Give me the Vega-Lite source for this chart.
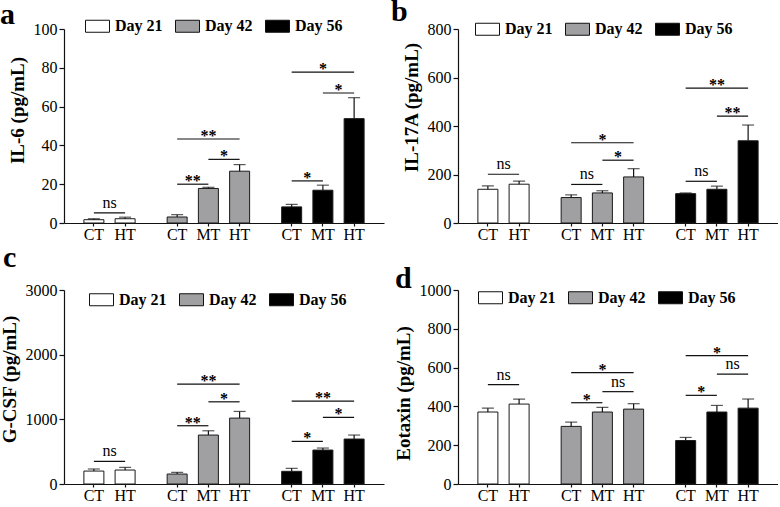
{
  "$schema": "https://vega.github.io/schema/vega-lite/v6.json",
  "description": "Cytokine levels (IL-6, IL-17A, G-CSF, Eotaxin) by day and group",
  "padding": {"left": 0, "top": -3, "right": 0, "bottom": 0},
  "background": "white",
  "datasets": {
    "a_bars": [
      {"key": "D21 CT", "day": "Day 21", "mean": 1.7, "upper": 2.2},
      {"key": "D21 HT", "day": "Day 21", "mean": 2.2, "upper": 3.0},
      {"key": "D42 CT", "day": "Day 42", "mean": 3.1, "upper": 4.3},
      {"key": "D42 MT", "day": "Day 42", "mean": 17.8, "upper": 18.4},
      {"key": "D42 HT", "day": "Day 42", "mean": 26.7, "upper": 30.1},
      {"key": "D56 CT", "day": "Day 56", "mean": 8.3, "upper": 9.6},
      {"key": "D56 MT", "day": "Day 56", "mean": 16.9, "upper": 19.5},
      {"key": "D56 HT", "day": "Day 56", "mean": 53.8, "upper": 64.6}
    ],
    "a_sig": [
      {"key": "D21 CT", "to": "D21 HT", "y": 5.2, "label": "ns", "kind": "adj"},
      {"key": "D42 CT", "to": "D42 MT", "y": 20.0, "label": "**", "kind": "adj"},
      {"key": "D42 MT", "to": "D42 HT", "y": 32.8, "label": "*", "kind": "adj"},
      {"key": "D42 CT", "to": "D42 HT", "y": 43.3, "label": "**", "kind": "wide"},
      {"key": "D56 CT", "to": "D56 MT", "y": 21.7, "label": "*", "kind": "adj"},
      {"key": "D56 MT", "to": "D56 HT", "y": 67.0, "label": "*", "kind": "adj"},
      {"key": "D56 CT", "to": "D56 HT", "y": 77.8, "label": "*", "kind": "wide"}
    ],
    "b_bars": [
      {"key": "D21 CT", "day": "Day 21", "mean": 139, "upper": 153},
      {"key": "D21 HT", "day": "Day 21", "mean": 160, "upper": 173},
      {"key": "D42 CT", "day": "Day 42", "mean": 105, "upper": 116},
      {"key": "D42 MT", "day": "Day 42", "mean": 124, "upper": 133},
      {"key": "D42 HT", "day": "Day 42", "mean": 190, "upper": 224},
      {"key": "D56 CT", "day": "Day 56", "mean": 121, "upper": 124},
      {"key": "D56 MT", "day": "Day 56", "mean": 139, "upper": 152},
      {"key": "D56 HT", "day": "Day 56", "mean": 339, "upper": 404}
    ],
    "b_sig": [
      {"key": "D21 CT", "to": "D21 HT", "y": 201, "label": "ns", "kind": "adj"},
      {"key": "D42 CT", "to": "D42 MT", "y": 159, "label": "ns", "kind": "adj"},
      {"key": "D42 MT", "to": "D42 HT", "y": 259, "label": "*", "kind": "adj"},
      {"key": "D42 CT", "to": "D42 HT", "y": 331, "label": "*", "kind": "wide"},
      {"key": "D56 CT", "to": "D56 MT", "y": 172, "label": "ns", "kind": "adj"},
      {"key": "D56 MT", "to": "D56 HT", "y": 441, "label": "**", "kind": "adj"},
      {"key": "D56 CT", "to": "D56 HT", "y": 556, "label": "**", "kind": "wide"}
    ],
    "c_bars": [
      {"key": "D21 CT", "day": "Day 21", "mean": 200, "upper": 232},
      {"key": "D21 HT", "day": "Day 21", "mean": 216, "upper": 257},
      {"key": "D42 CT", "day": "Day 42", "mean": 154, "upper": 180},
      {"key": "D42 MT", "day": "Day 42", "mean": 757, "upper": 823},
      {"key": "D42 HT", "day": "Day 42", "mean": 1019, "upper": 1122},
      {"key": "D56 CT", "day": "Day 56", "mean": 196, "upper": 242},
      {"key": "D56 MT", "day": "Day 56", "mean": 525, "upper": 556},
      {"key": "D56 HT", "day": "Day 56", "mean": 695, "upper": 757}
    ],
    "c_sig": [
      {"key": "D21 CT", "to": "D21 HT", "y": 350, "label": "ns", "kind": "adj"},
      {"key": "D42 CT", "to": "D42 MT", "y": 901, "label": "**", "kind": "adj"},
      {"key": "D42 MT", "to": "D42 HT", "y": 1271, "label": "*", "kind": "adj"},
      {"key": "D42 CT", "to": "D42 HT", "y": 1544, "label": "**", "kind": "wide"},
      {"key": "D56 CT", "to": "D56 MT", "y": 659, "label": "*", "kind": "adj"},
      {"key": "D56 MT", "to": "D56 HT", "y": 1029, "label": "*", "kind": "adj"},
      {"key": "D56 CT", "to": "D56 HT", "y": 1282, "label": "**", "kind": "wide"}
    ],
    "d_bars": [
      {"key": "D21 CT", "day": "Day 21", "mean": 371, "upper": 391},
      {"key": "D21 HT", "day": "Day 21", "mean": 412, "upper": 438},
      {"key": "D42 CT", "day": "Day 42", "mean": 297, "upper": 319},
      {"key": "D42 MT", "day": "Day 42", "mean": 371, "upper": 395},
      {"key": "D42 HT", "day": "Day 42", "mean": 386, "upper": 414},
      {"key": "D56 CT", "day": "Day 56", "mean": 224, "upper": 240},
      {"key": "D56 MT", "day": "Day 56", "mean": 371, "upper": 405},
      {"key": "D56 HT", "day": "Day 56", "mean": 391, "upper": 438}
    ],
    "d_sig": [
      {"key": "D21 CT", "to": "D21 HT", "y": 512, "label": "ns", "kind": "adj"},
      {"key": "D42 CT", "to": "D42 MT", "y": 419, "label": "*", "kind": "adj"},
      {"key": "D42 MT", "to": "D42 HT", "y": 476, "label": "ns", "kind": "adj"},
      {"key": "D42 CT", "to": "D42 HT", "y": 574, "label": "*", "kind": "wide"},
      {"key": "D56 CT", "to": "D56 MT", "y": 457, "label": "*", "kind": "adj"},
      {"key": "D56 MT", "to": "D56 HT", "y": 566, "label": "ns", "kind": "adj"},
      {"key": "D56 CT", "to": "D56 HT", "y": 662, "label": "*", "kind": "wide"}
    ]
  },
  "columns": 2,
  "bounds": "flush",
  "spacing": {"row": 67, "column": 74},
  "concat": [
    {
      "width": 320, "height": 194,
      "title": {"text": "a", "dy": 20.5},
      "layer": [
        {"data": {"name": "a_bars"},
         "mark": {"type": "bar", "width": 20, "stroke": "#1a1a1a", "strokeWidth": 1},
         "encoding": {
           "x": {"field": "key", "type": "nominal", "title": null,
             "scale": {"domain": ["p1","p2","D21 CT","s1","s2","D21 HT","s3","s4","s5","s6","D42 CT","s7","s8","D42 MT","s9","s10","D42 HT","s11","s12","s13","s14","D56 CT","s15","s16","D56 MT","s17","s18","D56 HT","p3","p4"], "paddingInner": 0, "paddingOuter": 0.37},
             "axis": {"values": ["D21 CT","D21 HT","D42 CT","D42 MT","D42 HT","D56 CT","D56 MT","D56 HT"], "labelExpr": "split(datum.value, ' ')[1]"}},
           "y": {"field": "mean", "type": "quantitative", "title": "IL-6 (pg/mL)",
             "scale": {"domain": [0, 100]},
             "axis": {"values": [0, 20, 40, 60, 80, 100], "tickCount": 20, "titleY": 81}},
           "fill": {"field": "day", "type": "nominal",
             "scale": {"domain": ["Day 21", "Day 42", "Day 56"], "range": ["#ffffff", "#a0a0a2", "#000000"]},
             "legend": {"title": null, "legendX": 21, "legendY": -15.5}}}},
        {"data": {"name": "a_bars"},
         "mark": {"type": "rule", "color": "#111", "strokeWidth": 1.2},
         "encoding": {"x": {"field": "key", "type": "nominal"}, "y": {"field": "mean", "type": "quantitative"}, "y2": {"field": "upper"}}},
        {"data": {"name": "a_bars"},
         "mark": {"type": "tick", "size": 12, "thickness": 1.2, "color": "#111"},
         "encoding": {"x": {"field": "key", "type": "nominal"}, "y": {"field": "upper", "type": "quantitative"}}},
        {"data": {"name": "a_sig"},
         "mark": {"type": "rule", "color": "#111", "strokeWidth": 1.2},
         "encoding": {"x": {"field": "key", "type": "nominal"}, "x2": {"field": "to"}, "y": {"field": "y", "type": "quantitative"}}},
        {"data": {"name": "a_sig"},
         "transform": [{"filter": "datum.label == 'ns'"}],
         "mark": {"type": "text", "fontSize": 16, "baseline": "alphabetic", "dy": -5},
         "encoding": {"x": {"field": "key", "type": "nominal", "bandPosition": 2}, "y": {"field": "y", "type": "quantitative"}, "text": {"field": "label"}}},
        {"data": {"name": "a_sig"},
         "transform": [{"filter": "datum.kind == 'adj' && datum.label != 'ns'"}],
         "mark": {"type": "text", "fontSize": 16, "fontWeight": "bold", "baseline": "alphabetic", "dy": 2},
         "encoding": {"x": {"field": "key", "type": "nominal", "bandPosition": 2}, "y": {"field": "y", "type": "quantitative"}, "text": {"field": "label"}}},
        {"data": {"name": "a_sig"},
         "transform": [{"filter": "datum.kind == 'wide'"}],
         "mark": {"type": "text", "fontSize": 16, "fontWeight": "bold", "baseline": "alphabetic", "dy": 2},
         "encoding": {"x": {"field": "key", "type": "nominal", "bandPosition": 3.5}, "y": {"field": "y", "type": "quantitative"}, "text": {"field": "label"}}}
      ]
    },
    {
      "width": 320, "height": 194,
      "title": {"text": "b", "dx": -67, "dy": 14.5},
      "layer": [
        {"data": {"name": "b_bars"},
         "mark": {"type": "bar", "width": 20, "stroke": "#1a1a1a", "strokeWidth": 1},
         "encoding": {
           "x": {"field": "key", "type": "nominal", "title": null,
             "scale": {"domain": ["p1","p2","D21 CT","s1","s2","D21 HT","s3","s4","s5","s6","D42 CT","s7","s8","D42 MT","s9","s10","D42 HT","s11","s12","s13","s14","D56 CT","s15","s16","D56 MT","s17","s18","D56 HT","p3","p4"], "paddingInner": 0, "paddingOuter": 0.37},
             "axis": {"values": ["D21 CT","D21 HT","D42 CT","D42 MT","D42 HT","D56 CT","D56 MT","D56 HT"], "labelExpr": "split(datum.value, ' ')[1]"}},
           "y": {"field": "mean", "type": "quantitative", "title": "IL-17A (pg/mL)",
             "scale": {"domain": [0, 800]},
             "axis": {"values": [0, 200, 400, 600, 800], "tickCount": 20, "titleY": 78}},
           "fill": {"field": "day", "type": "nominal",
             "scale": {"domain": ["Day 21", "Day 42", "Day 56"], "range": ["#ffffff", "#a0a0a2", "#000000"]},
             "legend": {"title": null, "legendX": 17, "legendY": -12.5}}}},
        {"data": {"name": "b_bars"},
         "mark": {"type": "rule", "color": "#111", "strokeWidth": 1.2},
         "encoding": {"x": {"field": "key", "type": "nominal"}, "y": {"field": "mean", "type": "quantitative"}, "y2": {"field": "upper"}}},
        {"data": {"name": "b_bars"},
         "mark": {"type": "tick", "size": 12, "thickness": 1.2, "color": "#111"},
         "encoding": {"x": {"field": "key", "type": "nominal"}, "y": {"field": "upper", "type": "quantitative"}}},
        {"data": {"name": "b_sig"},
         "mark": {"type": "rule", "color": "#111", "strokeWidth": 1.2},
         "encoding": {"x": {"field": "key", "type": "nominal"}, "x2": {"field": "to"}, "y": {"field": "y", "type": "quantitative"}}},
        {"data": {"name": "b_sig"},
         "transform": [{"filter": "datum.label == 'ns'"}],
         "mark": {"type": "text", "fontSize": 16, "baseline": "alphabetic", "dy": -5},
         "encoding": {"x": {"field": "key", "type": "nominal", "bandPosition": 2}, "y": {"field": "y", "type": "quantitative"}, "text": {"field": "label"}}},
        {"data": {"name": "b_sig"},
         "transform": [{"filter": "datum.kind == 'adj' && datum.label != 'ns'"}],
         "mark": {"type": "text", "fontSize": 16, "fontWeight": "bold", "baseline": "alphabetic", "dy": 2},
         "encoding": {"x": {"field": "key", "type": "nominal", "bandPosition": 2}, "y": {"field": "y", "type": "quantitative"}, "text": {"field": "label"}}},
        {"data": {"name": "b_sig"},
         "transform": [{"filter": "datum.kind == 'wide'"}],
         "mark": {"type": "text", "fontSize": 16, "fontWeight": "bold", "baseline": "alphabetic", "dy": 2},
         "encoding": {"x": {"field": "key", "type": "nominal", "bandPosition": 3.5}, "y": {"field": "y", "type": "quantitative"}, "text": {"field": "label"}}}
      ]
    },
    {
      "width": 320, "height": 194,
      "title": {"text": "c", "dx": -61, "dy": -5},
      "layer": [
        {"data": {"name": "c_bars"},
         "mark": {"type": "bar", "width": 20, "stroke": "#1a1a1a", "strokeWidth": 1},
         "encoding": {
           "x": {"field": "key", "type": "nominal", "title": null,
             "scale": {"domain": ["p1","p2","D21 CT","s1","s2","D21 HT","s3","s4","s5","s6","D42 CT","s7","s8","D42 MT","s9","s10","D42 HT","s11","s12","s13","s14","D56 CT","s15","s16","D56 MT","s17","s18","D56 HT","p3","p4"], "paddingInner": 0, "paddingOuter": 0.37},
             "axis": {"values": ["D21 CT","D21 HT","D42 CT","D42 MT","D42 HT","D56 CT","D56 MT","D56 HT"], "labelExpr": "split(datum.value, ' ')[1]"}},
           "y": {"field": "mean", "type": "quantitative", "title": "G-CSF (pg/mL)",
             "scale": {"domain": [0, 3000]},
             "axis": {"values": [0, 1000, 2000, 3000], "tickCount": 20, "titleY": 89}},
           "fill": {"field": "day", "type": "nominal",
             "scale": {"domain": ["Day 21", "Day 42", "Day 56"], "range": ["#ffffff", "#a0a0a2", "#000000"]},
             "legend": {"title": null, "legendX": 25, "legendY": -3}}}},
        {"data": {"name": "c_bars"},
         "mark": {"type": "rule", "color": "#111", "strokeWidth": 1.2},
         "encoding": {"x": {"field": "key", "type": "nominal"}, "y": {"field": "mean", "type": "quantitative"}, "y2": {"field": "upper"}}},
        {"data": {"name": "c_bars"},
         "mark": {"type": "tick", "size": 12, "thickness": 1.2, "color": "#111"},
         "encoding": {"x": {"field": "key", "type": "nominal"}, "y": {"field": "upper", "type": "quantitative"}}},
        {"data": {"name": "c_sig"},
         "mark": {"type": "rule", "color": "#111", "strokeWidth": 1.2},
         "encoding": {"x": {"field": "key", "type": "nominal"}, "x2": {"field": "to"}, "y": {"field": "y", "type": "quantitative"}}},
        {"data": {"name": "c_sig"},
         "transform": [{"filter": "datum.label == 'ns'"}],
         "mark": {"type": "text", "fontSize": 16, "baseline": "alphabetic", "dy": -5},
         "encoding": {"x": {"field": "key", "type": "nominal", "bandPosition": 2}, "y": {"field": "y", "type": "quantitative"}, "text": {"field": "label"}}},
        {"data": {"name": "c_sig"},
         "transform": [{"filter": "datum.kind == 'adj' && datum.label != 'ns'"}],
         "mark": {"type": "text", "fontSize": 16, "fontWeight": "bold", "baseline": "alphabetic", "dy": 2},
         "encoding": {"x": {"field": "key", "type": "nominal", "bandPosition": 2}, "y": {"field": "y", "type": "quantitative"}, "text": {"field": "label"}}},
        {"data": {"name": "c_sig"},
         "transform": [{"filter": "datum.kind == 'wide'"}],
         "mark": {"type": "text", "fontSize": 16, "fontWeight": "bold", "baseline": "alphabetic", "dy": 2},
         "encoding": {"x": {"field": "key", "type": "nominal", "bandPosition": 3.5}, "y": {"field": "y", "type": "quantitative"}, "text": {"field": "label"}}}
      ]
    },
    {
      "width": 320, "height": 194,
      "title": {"text": "d", "dx": -63, "dy": 16},
      "layer": [
        {"data": {"name": "d_bars"},
         "mark": {"type": "bar", "width": 20, "stroke": "#1a1a1a", "strokeWidth": 1},
         "encoding": {
           "x": {"field": "key", "type": "nominal", "title": null,
             "scale": {"domain": ["p1","p2","D21 CT","s1","s2","D21 HT","s3","s4","s5","s6","D42 CT","s7","s8","D42 MT","s9","s10","D42 HT","s11","s12","s13","s14","D56 CT","s15","s16","D56 MT","s17","s18","D56 HT","p3","p4"], "paddingInner": 0, "paddingOuter": 0.37},
             "axis": {"values": ["D21 CT","D21 HT","D42 CT","D42 MT","D42 HT","D56 CT","D56 MT","D56 HT"], "labelExpr": "split(datum.value, ' ')[1]"}},
           "y": {"field": "mean", "type": "quantitative", "title": "Eotaxin (pg/mL)",
             "scale": {"domain": [0, 1000]},
             "axis": {"values": [0, 200, 400, 600, 800, 1000], "tickCount": 20, "titleY": 103}},
           "fill": {"field": "day", "type": "nominal",
             "scale": {"domain": ["Day 21", "Day 42", "Day 56"], "range": ["#ffffff", "#a0a0a2", "#000000"]},
             "legend": {"title": null, "legendX": 20, "legendY": -5}}}},
        {"data": {"name": "d_bars"},
         "mark": {"type": "rule", "color": "#111", "strokeWidth": 1.2},
         "encoding": {"x": {"field": "key", "type": "nominal"}, "y": {"field": "mean", "type": "quantitative"}, "y2": {"field": "upper"}}},
        {"data": {"name": "d_bars"},
         "mark": {"type": "tick", "size": 12, "thickness": 1.2, "color": "#111"},
         "encoding": {"x": {"field": "key", "type": "nominal"}, "y": {"field": "upper", "type": "quantitative"}}},
        {"data": {"name": "d_sig"},
         "mark": {"type": "rule", "color": "#111", "strokeWidth": 1.2},
         "encoding": {"x": {"field": "key", "type": "nominal"}, "x2": {"field": "to"}, "y": {"field": "y", "type": "quantitative"}}},
        {"data": {"name": "d_sig"},
         "transform": [{"filter": "datum.label == 'ns'"}],
         "mark": {"type": "text", "fontSize": 16, "baseline": "alphabetic", "dy": -5},
         "encoding": {"x": {"field": "key", "type": "nominal", "bandPosition": 2}, "y": {"field": "y", "type": "quantitative"}, "text": {"field": "label"}}},
        {"data": {"name": "d_sig"},
         "transform": [{"filter": "datum.kind == 'adj' && datum.label != 'ns'"}],
         "mark": {"type": "text", "fontSize": 16, "fontWeight": "bold", "baseline": "alphabetic", "dy": 2},
         "encoding": {"x": {"field": "key", "type": "nominal", "bandPosition": 2}, "y": {"field": "y", "type": "quantitative"}, "text": {"field": "label"}}},
        {"data": {"name": "d_sig"},
         "transform": [{"filter": "datum.kind == 'wide'"}],
         "mark": {"type": "text", "fontSize": 16, "fontWeight": "bold", "baseline": "alphabetic", "dy": 2},
         "encoding": {"x": {"field": "key", "type": "nominal", "bandPosition": 3.5}, "y": {"field": "y", "type": "quantitative"}, "text": {"field": "label"}}}
      ]
    }
  ],
  "resolve": {"scale": {"fill": "independent"}},
  "config": {
    "font": "Liberation Serif",
    "view": {"stroke": null},
    "text": {"font": "Liberation Serif", "color": "#000"},
    "axis": {"grid": false, "domain": true, "ticks": true, "domainColor": "#111", "tickColor": "#111", "labelColor": "#000", "labelFont": "Liberation Serif", "labelFontSize": 16, "titleFont": "Liberation Serif", "titleFontWeight": "bold", "titleFontSize": 19, "titleColor": "#000"},
    "axisX": {"labelAngle": 0, "tickSize": 3, "labelPadding": 0, "domainWidth": 1.2, "tickWidth": 1.2},
    "axisY": {"tickSize": 5, "labelPadding": 2, "titlePadding": 6, "domainWidth": 1.2, "tickWidth": 1.2, "labelOverlap": false, "format": "d"},
    "legend": {"orient": "none", "direction": "horizontal", "symbolType": "M-1,-0.5H1V0.5H-1Z", "symbolSize": 576, "symbolStrokeColor": "#111", "symbolStrokeWidth": 1, "symbolOpacity": 1, "labelFont": "Liberation Serif", "labelFontSize": 16, "labelFontWeight": "bold", "labelColor": "#000", "labelOffset": 5, "columnPadding": 10, "padding": 0},
    "title": {"font": "Liberation Serif", "fontSize": 30, "fontWeight": "bold", "color": "#000", "anchor": "start", "frame": "group", "dx": -64, "baseline": "alphabetic", "offset": 0}
  }
}
